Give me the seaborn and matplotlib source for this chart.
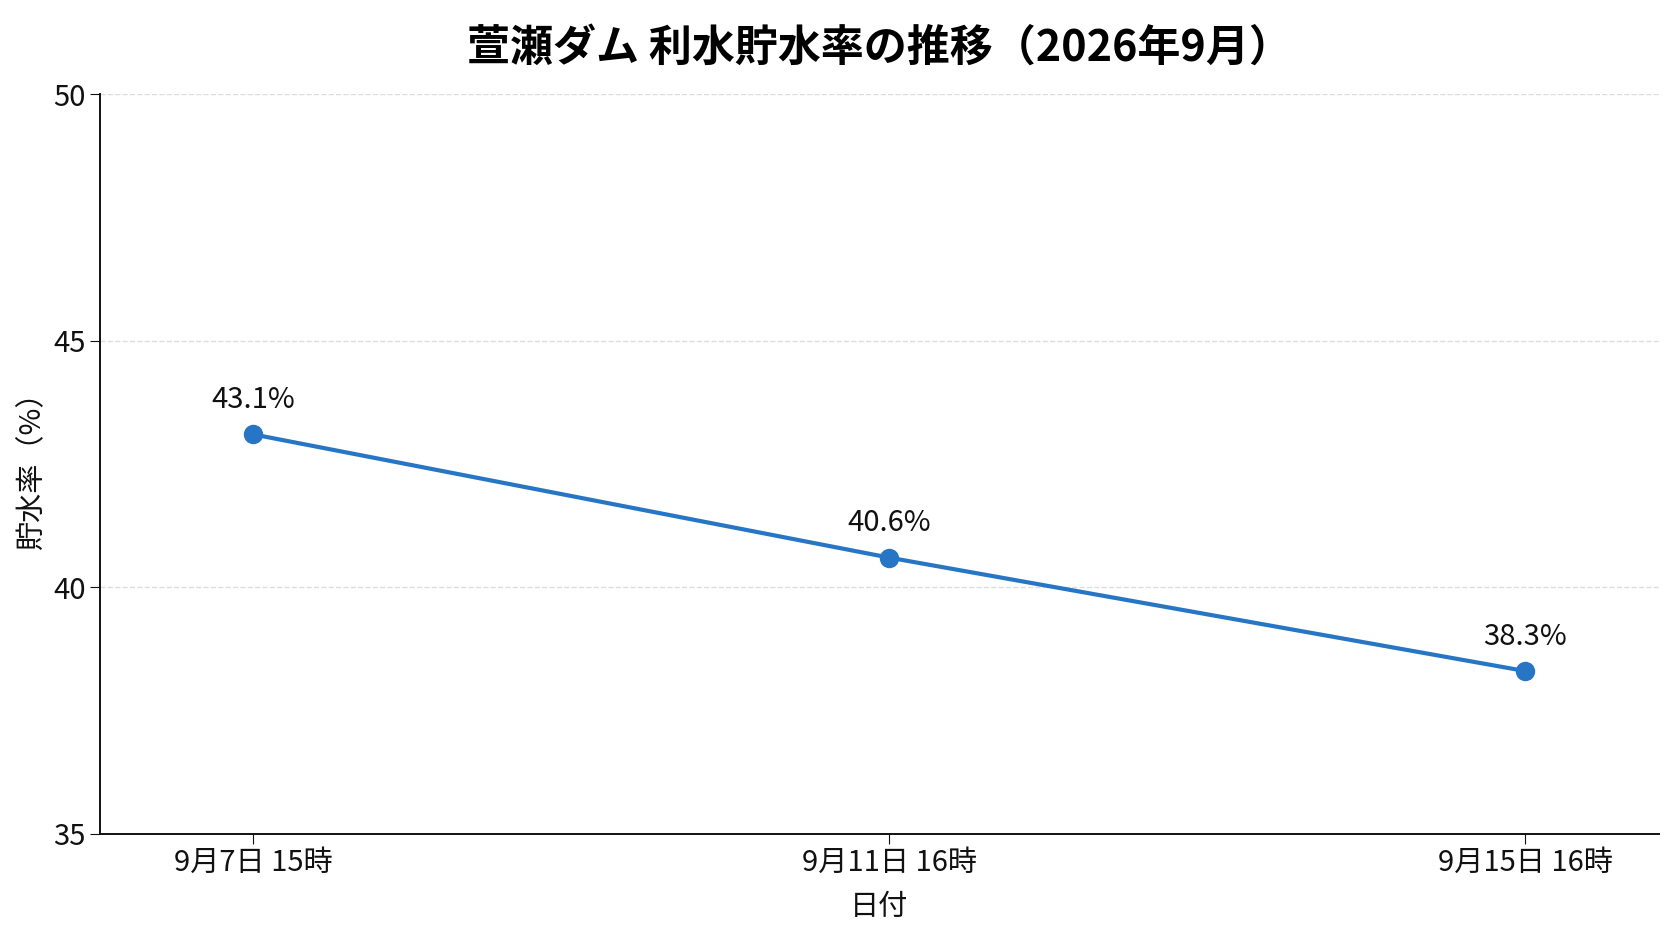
import matplotlib
matplotlib.use("Agg")
import matplotlib.pyplot as plt
import seaborn as sns
import pandas as pd

sns.set_style("ticks")
plt.rcParams['font.family'] = ['Noto Sans CJK JP', 'DejaVu Sans']
plt.rcParams['text.color'] = '#111111'
plt.rcParams['axes.labelcolor'] = '#111111'
plt.rcParams['xtick.color'] = '#111111'
plt.rcParams['ytick.color'] = '#111111'

dates = ["9月7日 15時", "9月11日 16時", "9月15日 16時"]
rates = [43.1, 40.6, 38.3]
y_ticks = [35, 40, 45, 50]

df = pd.DataFrame({"date": dates, "rate": rates, "pos": range(len(dates))})
line_color = "#2776c6"

fig, ax = plt.subplots(figsize=(16.72, 9.41), dpi=100)
sns.lineplot(data=df, x="pos", y="rate", ax=ax, color=line_color, linewidth=3,
             marker="o", markersize=14, markeredgewidth=0)

for _, row in df.iterrows():
    ax.annotate("{:.1f}%".format(row["rate"]), (row["pos"], row["rate"]),
                xytext=(0, 14), textcoords="offset points", ha="center", va="bottom",
                fontsize=21)

ax.set_xticks(df["pos"])
ax.set_xticklabels(dates)
ax.set_xlim(-0.24, 2.21)
ax.set_ylim(35, 50)
ax.set_yticks(y_ticks)
ax.tick_params(axis="both", labelsize=21, length=7)
ax.grid(axis="y", linestyle="--", color="#dddddd", linewidth=1)
ax.set_axisbelow(True)
sns.despine(ax=ax)
for s in ["left", "bottom"]:
    ax.spines[s].set_color("#111111")
    ax.spines[s].set_linewidth(1.4)

ax.set_xlabel("日付", fontsize=21, labelpad=10)
ax.set_ylabel("貯水率（%）", fontsize=21, labelpad=4)
ax.set_title("萱瀬ダム 利水貯水率の推移（2026年9月）", fontsize=31, fontweight="bold",
             color="black", pad=24)

fig.subplots_adjust(left=0.06, right=0.992, top=0.9, bottom=0.114)
fig.savefig("out.png", dpi=100)
